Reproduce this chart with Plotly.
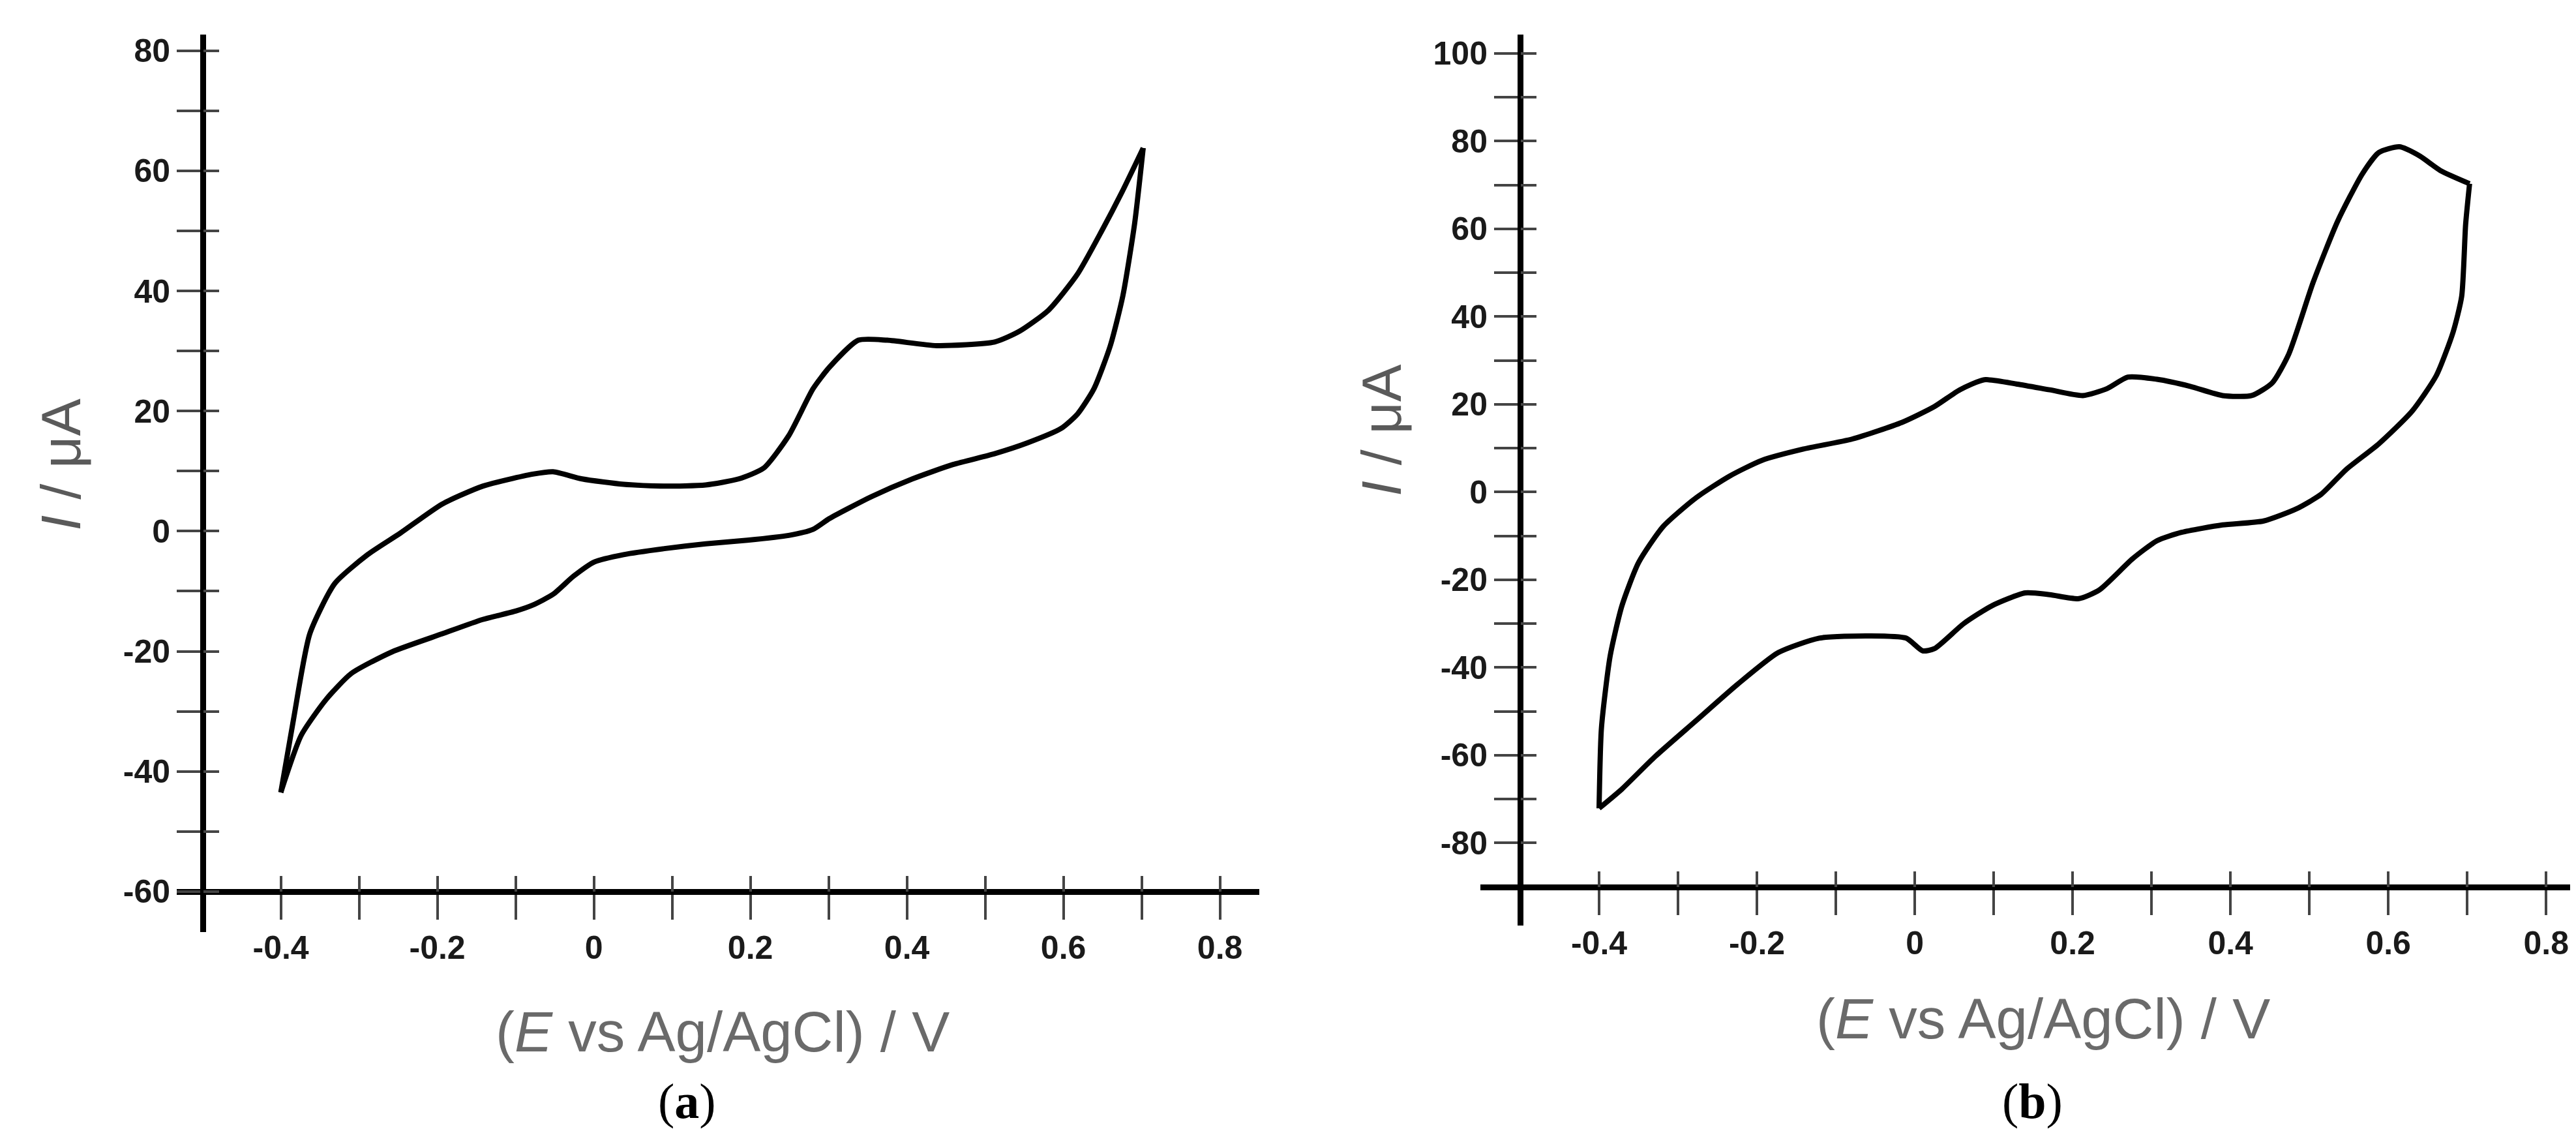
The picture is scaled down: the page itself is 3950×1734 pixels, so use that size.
import plotly.graph_objects as go

# (a) cyclic voltammogram, potential (V) / current (uA)
# forward sweep (upper branch) and reverse sweep (lower branch)
e_a_fwd = [-0.40, -0.384, -0.363, -0.331, -0.289, -0.247, -0.194, -0.142, -0.078, -0.052,
           -0.015, 0.038, 0.090, 0.143, 0.185, 0.217, 0.249, 0.280, 0.301, 0.338,
           0.375, 0.438, 0.512, 0.544, 0.581, 0.618, 0.649, 0.675, 0.702]
i_a_fwd = [-43.5, -31.5, -17.1, -8.7, -3.9, -0.3, 4.5, 7.5, 9.5, 9.9,
           8.7, 7.8, 7.5, 7.7, 8.7, 10.5, 15.9, 23.7, 27.3, 31.8,
           31.8, 30.9, 31.5, 33.3, 36.8, 42.8, 50.0, 56.5, 63.8]
e_a_rev = [0.702, 0.691, 0.676, 0.660, 0.639, 0.618, 0.597, 0.554, 0.512, 0.459, 0.407,
           0.354, 0.301, 0.280, 0.249, 0.196, 0.143, 0.090, 0.038, 0.001, -0.026,
           -0.052, -0.078, -0.100, -0.142, -0.194, -0.258, -0.310, -0.342, -0.374, -0.40]
i_a_rev = [63.8, 51.2, 39.2, 30.9, 23.7, 19.5, 17.1, 14.7, 12.9, 11.1, 8.7,
           5.7, 2.1, 0.3, -0.7, -1.5, -2.1, -2.9, -3.9, -5.1, -7.5,
           -10.5, -12.3, -13.3, -14.7, -17.1, -20.1, -23.7, -28.0, -34.0, -43.5]

# (b)
e_b_fwd = [-0.40, -0.397, -0.386, -0.371, -0.350, -0.319, -0.277, -0.235, -0.194, -0.141,
           -0.079, -0.016, 0.025, 0.057, 0.088, 0.130, 0.171, 0.213, 0.244, 0.270,
           0.307, 0.349, 0.390, 0.427, 0.453, 0.474, 0.505, 0.536, 0.567, 0.588,
           0.614, 0.640, 0.666, 0.703]
i_b_fwd = [-72.1, -53.8, -37.4, -25.9, -16.1, -7.9, -1.3, 3.6, 7.2, 9.8,
           12.1, 15.9, 19.5, 23.3, 25.6, 24.6, 23.3, 22.0, 23.6, 26.2,
           25.7, 24.1, 22.0, 22.0, 24.9, 31.5, 47.9, 61.8, 72.5, 77.4,
           78.7, 76.6, 73.3, 70.3]
e_b_rev = [0.703, 0.698, 0.693, 0.682, 0.661, 0.630, 0.588, 0.547, 0.515, 0.484, 0.442,
           0.390, 0.338, 0.307, 0.276, 0.234, 0.208, 0.171, 0.140, 0.098, 0.062,
           0.025, 0.010, -0.011, -0.058, -0.121, -0.173, -0.225, -0.277, -0.329, -0.371, -0.40]
i_b_rev = [70.3, 61.0, 44.6, 36.4, 26.6, 18.4, 11.0, 5.2, -0.5, -3.8, -6.6,
           -7.5, -9.2, -11.1, -15.2, -22.3, -24.3, -23.4, -23.0, -25.9, -30.0,
           -35.7, -36.2, -33.3, -32.8, -33.3, -36.6, -43.9, -52.1, -60.3, -67.7, -72.1]

x_tickvals = [-0.4, -0.3, -0.2, -0.1, 0, 0.1, 0.2, 0.3, 0.4, 0.5, 0.6, 0.7, 0.8]
x_ticktext = ['-0.4', '', '-0.2', '', '0', '', '0.2', '', '0.4', '', '0.6', '', '0.8']
y_tickvals_a = [-60, -50, -40, -30, -20, -10, 0, 10, 20, 30, 40, 50, 60, 70, 80]
y_ticktext_a = ['-60', '', '-40', '', '-20', '', '0', '', '20', '', '40', '', '60', '', '80']
y_tickvals_b = [-80, -70, -60, -50, -40, -30, -20, -10, 0, 10, 20, 30, 40, 50, 60, 70, 80, 90, 100]
y_ticktext_b = ['-80', '', '-60', '', '-40', '', '-20', '', '0', '', '20', '', '40', '', '60', '', '80', '', '100']

tickfont = dict(family='Liberation Sans', size=50, color='#1a1a1a', weight='bold')
xtitlefont = dict(family='Liberation Sans', size=87, color='#6a6a6a')
ytitlefont = dict(family='Liberation Sans', size=86, color='#5a5a5a')
labelfont = dict(family='Liberation Serif', size=76, color='black')


def x_axis(domain, rng, pos):
    return dict(domain=domain, range=rng, anchor='free', position=pos,
                showline=True, linewidth=9, linecolor='black',
                ticks='outside', ticklen=38, tickwidth=4, tickcolor='#444',
                tickvals=x_tickvals, ticktext=x_ticktext, tickfont=tickfont,
                showgrid=False, zeroline=False)


def y_axis(domain, rng, pos, vals, text):
    return dict(domain=domain, range=rng, anchor='free', position=pos,
                showline=True, linewidth=9, linecolor='black',
                ticks='outside', ticklen=36, tickwidth=4, tickcolor='#444',
                tickvals=vals, ticktext=text, tickfont=tickfont,
                showgrid=False, zeroline=False)


def inner(over, rng, pos, vals):
    # second axis on the same line, ticks on the other side -> crossing ticks
    return dict(overlaying=over, range=rng, anchor='free', position=pos,
                showline=False, ticks='inside', ticklen=24, tickwidth=4, tickcolor='#444',
                tickvals=vals, showticklabels=False, showgrid=False, zeroline=False)


xr_a, yr_a = [-0.533, 0.85], [-66.7, 82.7]
xr_b, yr_b = [-0.55, 0.83], [-98.76, 104.3]

fig = go.Figure()
line = dict(color='black', width=8, shape='spline', smoothing=0.6)
for xs, ys, xa, ya in [(e_a_fwd, i_a_fwd, 'x', 'y'), (e_a_rev, i_a_rev, 'x', 'y'),
                       (e_b_fwd, i_b_fwd, 'x2', 'y2'), (e_b_rev, i_b_rev, 'x2', 'y2')]:
    fig.add_trace(go.Scatter(x=xs, y=ys, mode='lines', line=line, xaxis=xa, yaxis=ya))
# empty traces so the overlay (inside tick) axes get drawn
fig.add_trace(go.Scatter(x=[], y=[], xaxis='x3', yaxis='y3'))
fig.add_trace(go.Scatter(x=[], y=[], xaxis='x4', yaxis='y4'))

fig.update_layout(
    width=3950, height=1734, margin=dict(l=0, r=0, t=0, b=0),
    paper_bgcolor='white', plot_bgcolor='white', showlegend=False,
    xaxis=x_axis([0.06658, 0.48673], xr_a, 0.21684),
    yaxis=y_axis([0.18108, 0.97578], yr_a, 0.07671, y_tickvals_a, y_ticktext_a),
    xaxis2=x_axis([0.57278, 0.99557], xr_b, 0.22088),
    yaxis2=y_axis([0.18685, 0.97578], yr_b, 0.58810, y_tickvals_b, y_ticktext_b),
    xaxis3=inner('x', xr_a, 0.21684, x_tickvals),
    yaxis3=inner('y', yr_a, 0.07671, y_tickvals_a),
    xaxis4=inner('x2', xr_b, 0.22088, x_tickvals),
    yaxis4=inner('y2', yr_b, 0.58810, y_tickvals_b),
)

annots = [
    dict(x=0.2785, y=0.093, text='(<i>E</i> vs Ag/AgCl) / V', font=xtitlefont),
    dict(x=0.7911, y=0.104, text='(<i>E</i> vs Ag/AgCl) / V', font=xtitlefont),
    dict(x=0.0215, y=0.5952, text='<i>I</i> / μA', font=ytitlefont, textangle=-90),
    dict(x=0.5342, y=0.6251, text='<i>I</i> / μA', font=ytitlefont, textangle=-90),
    dict(x=0.2646, y=0.0311, text='(<b>a</b>)', font=labelfont),
    dict(x=0.7870, y=0.0311, text='(<b>b</b>)', font=labelfont),
]
for a in annots:
    fig.add_annotation(xref='paper', yref='paper', showarrow=False,
                       xanchor='center', yanchor='middle', **a)

fig.write_html("out.html")
